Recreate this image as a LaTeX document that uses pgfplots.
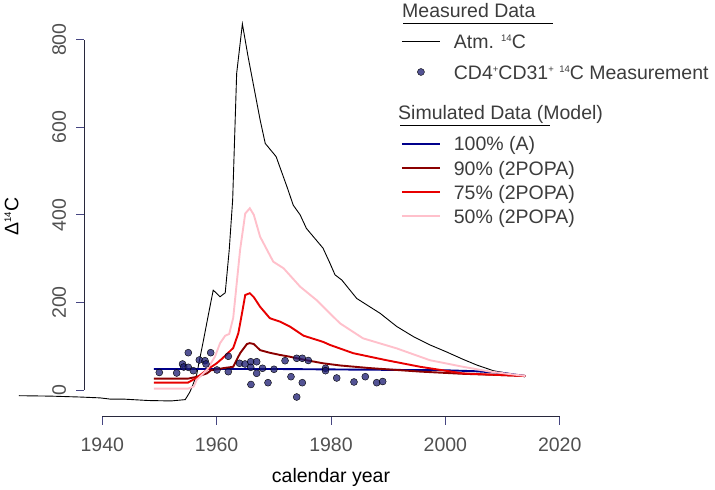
\documentclass[border=0pt]{standalone}
\usepackage{pgfplots}
\pgfplotsset{compat=1.18}
\usepackage{fontspec}
\setmainfont{Liberation Sans}
\newcommand\fs{\fontsize{19.5}{23.4}\selectfont}
\newcommand\sups[1]{\raisebox{7.2pt}{\fontsize{9.5}{10}\selectfont #1}}
\definecolor{ptcol}{RGB}{25,25,112}
\definecolor{simblue}{RGB}{0,0,139}
\definecolor{simdarkred}{RGB}{139,0,0}
\definecolor{simred}{RGB}{232,0,0}
\definecolor{simpink}{RGB}{255,192,203}
\definecolor{tickcol}{RGB}{70,70,130}
\definecolor{axcol}{RGB}{40,40,60}
\definecolor{labgray}{RGB}{80,80,80}
\definecolor{leggray}{RGB}{60,60,60}

\pgfplotstableread{
x y
1925.4 -13
1931 -14
1936 -16
1939.6 -18
1941.5 -21
1944 -21
1948 -24
1952 -25
1954.5 -22
1955.3 -5
1955.8 10
1956.5 35
1957.7 114
1958.6 175
1959.4 228
1960.6 213
1961.5 222
1962.2 320
1962.8 434
1963.5 723
1964.5 836
1965.5 761
1967.6 617
1968.5 563
1970.4 533
1972.3 464
1973.4 422
1974.6 400
1975.7 369
1978.6 324
1979.8 290
1980.7 263
1981.9 251
1984.5 209
1988.6 175
1991.5 145
1994.4 122
1997.3 103
2000.2 87
2003.1 70
2005.5 57
2008.4 44
2011 38
2013.9 30
}\atm

\pgfplotstableread{
x y
1949.97 40.0
1953.01 38.8
1954.03 59.4
1954.24 52.5
1955.04 85.2
1955.04 51.8
1955.92 44.1
1956.97 68.5
1957.96 66.9
1958.14 59.4
1958.96 85.2
1960.06 45.7
1962.04 77.0
1962.04 41.8
1964.0 61.0
1964.96 59.4
1965.96 64.6
1965.96 51.8
1966.0 12.6
1967.0 64.6
1967.0 38.1
1968.02 49.6
1968.98 16.7
1970.03 47.3
1971.96 66.9
1973.0 30.4
1974.0 72.4
1974.0 -16.0
1974.98 72.4
1974.98 16.7
1976.03 67.4
1979.04 49.6
1979.04 44.1
1981.0 27.4
1984.02 18.3
1986.0 30.4
1987.99 16.7
1989.04 19.4
}\meas

\pgfplotstableread{
x y
1949 48
1955 48
1960 48
1965 48
1970 48
1980 47
1990 46
2000 45
2005 43
2010 39
2014 32
}\mA

\pgfplotstableread{
x y
1949 26
1955 26
1956.5 30
1958.3 38
1959 45
1960 47
1961.2 50
1962.9 53
1964.1 84
1965.3 105
1965.8 107
1966.5 105
1967.6 91
1969.3 85
1971.1 80
1972.8 76
1975.7 68
1978.6 61
1981.6 56
1986.8 50
1995.6 42
2003 37
2010 34
2014 32
}\mB

\pgfplotstableread{
x y
1949 17
1955 17
1956.5 28
1958.3 46
1960 61
1960.9 71
1961.8 82
1962.9 96
1963.8 130
1964.5 180
1965 217
1965.8 221
1966.5 212
1967.6 190
1969.3 164
1971.1 156
1972.8 145
1975.2 124
1978.6 110
1979.8 103
1983.9 84
1989.7 68
1995.6 53
2003 38
2008 35
2014 32
}\mC

\pgfplotstableread{
x y
1949 3
1955 3
1956 8
1956.5 23
1958.3 46
1959.7 76
1960.6 107
1961.5 124
1962.2 128
1962.9 165
1964.1 320
1965.0 403
1965.8 415
1966.5 400
1967.6 350
1969.9 293
1971.7 278
1974.6 236
1977.5 205
1979.8 175
1981.6 152
1985.6 118
1991.5 95
1997.3 68
2003.1 53
2007.8 42
2014 32
}\mD

\begin{document}
\begin{tikzpicture}
\path[use as bounding box] (0,0) rectangle (715pt,490pt);
\begin{axis}[
  at={(84pt,73.29pt)}, anchor=south west,
  scale only axis, width=494pt, height=400.24pt,
  xmin=1936.8, xmax=2023.2, ymin=-61, ymax=853,
  clip=false,
  axis line style={draw=none},
  xtick={1940,1960,1980,2000,2020}, ytick={0,200,400,600,800},
  xtick pos=bottom, ytick pos=left,
  tick align=outside, major tick length=8pt,
  tick style={color=tickcol, line width=0.8pt},
  ticklabel style={font=\fs, text=labgray},
  /pgf/number format/assume math mode=true,
  /pgf/number format/1000 sep={},
  xticklabel style={anchor=north, inner sep=0pt, yshift=-12.7pt},
  yticklabel style={xshift=-9.7pt, rotate=90, anchor=south, inner sep=0pt},
  xlabel={calendar year},
  xlabel style={at={(axis description cs:0.5,-0.1644)}, anchor=base, font=\fs, text=black, inner sep=0pt},
  ylabel={Δ\sups{14}C},
  ylabel style={at={(axis description cs:-0.133,0.5)}, anchor=base, rotate=0, font=\fs, text=black, inner sep=0pt},
  legend cell align=left,
  legend image code/.code={\draw[mark repeat=2,mark phase=2,#1] plot coordinates {(0pt,7.3pt) (19pt,7.3pt) (38pt,7.3pt)};},
  legend style={draw=none, fill=none, inner sep=0pt, outer sep=0pt,
    at={(0.6417,0.957)}, anchor=north west,
    row sep=9.5pt, column sep=13pt,
    cells={anchor=base west},
    nodes={inner sep=0pt, text height=14.6pt, text depth=0pt, font=\fs, text=leggray}},
]
\addplot[black, line width=0.9pt] table {\atm};
\addlegendentry[text depth=6.9pt]{Atm. \sups{14}C}
\addplot[only marks, mark=*, mark size=3.5pt, mark options={draw=none, fill=ptcol, fill opacity=0.75}] table {\meas};
\addlegendentry{CD4\sups{+}CD31\sups{+} \sups{14}C Measurement}
\addlegendimage{empty legend}
\addlegendentry[text height=38.1pt]{}
\addplot[color=simblue, line width=1.9pt] table {\mA};
\addlegendentry{100\% (A)}
\addplot[color=simdarkred, line width=1.9pt] table {\mB};
\addlegendentry{90\% (2POPA)}
\addplot[color=simred, line width=1.9pt] table {\mC};
\addlegendentry{75\% (2POPA)}
\addplot[color=simpink, line width=1.9pt] table {\mD};
\addlegendentry{50\% (2POPA)}
\draw[axcol, line width=0.8pt] (axis cs:1940,-61) -- (axis cs:2020,-61);
\draw[axcol, line width=0.8pt] (axis cs:1936.8,0) -- (axis cs:1936.8,800);
\end{axis}
\node[anchor=base west, inner sep=0pt, font=\fs, text=leggray] at (402pt,472.7pt) {Measured Data};
\draw[black, line width=0.8pt] (403pt,466.7pt) -- (553pt,466.7pt);
\node[anchor=base west, inner sep=0pt, font=\fs, text=leggray] at (398pt,370pt) {Simulated Data (Model)};
\draw[black, line width=0.8pt] (400pt,364.3pt) -- (550pt,364.3pt);
\end{tikzpicture}
\end{document}
